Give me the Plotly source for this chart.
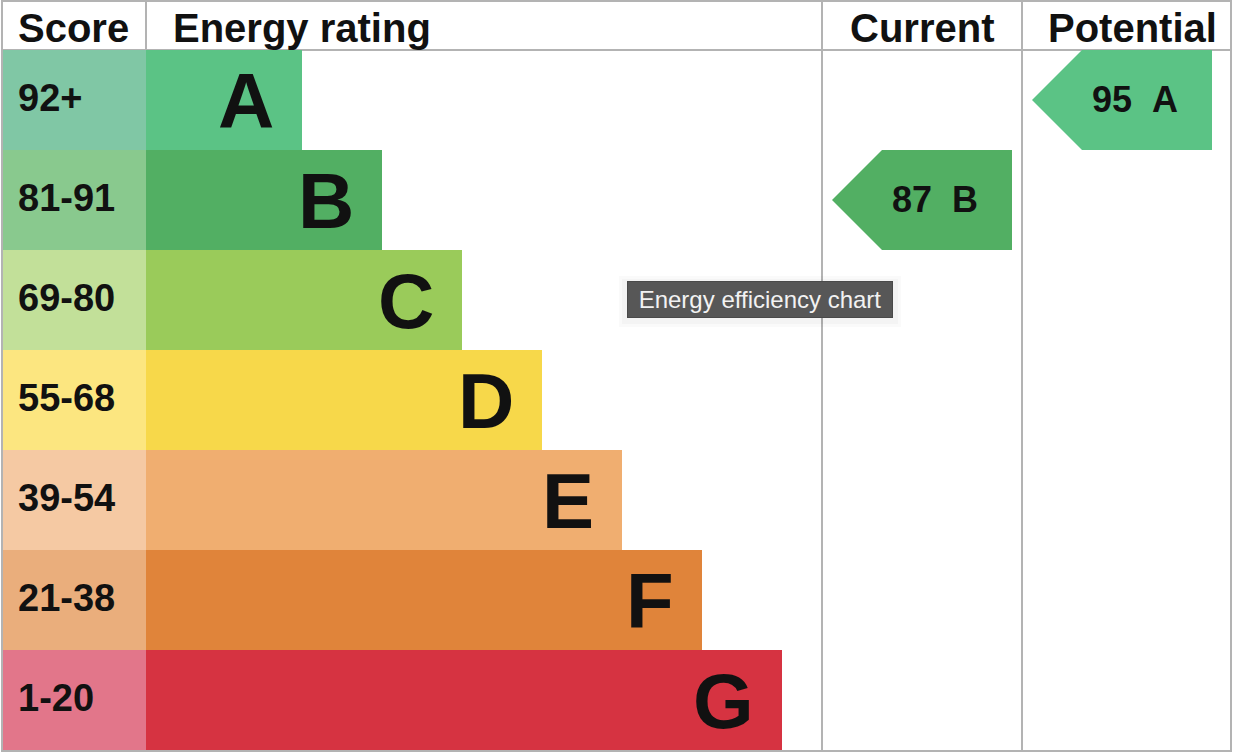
import plotly.graph_objects as go

# ---- data ----
bands = ["A", "B", "C", "D", "E", "F", "G"]
score_labels = ["92+", "81-91", "69-80", "55-68", "39-54", "21-38", "1-20"]
band_mins = [92, 81, 69, 55, 39, 21, 1]
bar_colors = ["#5bc385", "#52af63", "#9acb5a", "#f7d84a", "#f0ae70", "#e0843a", "#d63341"]
score_colors = ["#80c7a5", "#89c98e", "#c2e099", "#fce680", "#f5c9a3", "#eaae7c", "#e2768a"]
headers = ["Score", "Energy rating", "Current", "Potential"]
current_score = 87
potential_score = 95
tooltip_text = "Energy efficiency chart"

# ---- layout geometry (styles) ----
W, H = 1236, 756
LEFT, RIGHT, TOP, BOTTOM = 2, 1231, 1, 751
HEADER_H = 49
ROW_H = 100
SCORE_R = 146
BAR_MIN = 156
BAR_STEP = 80
CUR_L, POT_L = 822, 1022
GRID = "#b3b3b3"
FONT = "Liberation Sans"

row_top = [TOP + HEADER_H + ROW_H * i for i in range(len(bands))]
row_mid = [t + ROW_H / 2 for t in row_top]


def band_index(score):
    for i, m in enumerate(band_mins):
        if score >= m:
            return i
    return len(bands) - 1


fig = go.Figure()

# score column cells
fig.add_trace(go.Bar(
    orientation="h", y=row_mid, x=[SCORE_R - LEFT] * len(bands), base=LEFT,
    width=ROW_H, marker=dict(color=score_colors, line=dict(width=0)),
    hoverinfo="skip", showlegend=False))

# rating bars
bar_len = [BAR_MIN + BAR_STEP * i for i in range(len(bands))]
fig.add_trace(go.Bar(
    orientation="h", y=row_mid, x=bar_len, base=SCORE_R,
    width=ROW_H, marker=dict(color=bar_colors, line=dict(width=0)),
    hoverinfo="skip", showlegend=False))

annotations = []
for i, b in enumerate(bands):
    annotations.append(dict(
        x=16, y=row_mid[i] - 2, xref="x", yref="y", text="<b>%s</b>" % score_labels[i],
        showarrow=False, xanchor="left", yanchor="middle",
        font=dict(family=FONT, size=38, color="#111111")))
    annotations.append(dict(
        x=SCORE_R + bar_len[i] - 26, y=row_mid[i] + 1, xref="x", yref="y", text="<b>%s</b>" % b,
        showarrow=False, xanchor="right", yanchor="middle",
        font=dict(family=FONT, size=78, color="#111111")))

# arrows for current / potential
for score, col_left in [(current_score, CUR_L), (potential_score, POT_L)]:
    i = band_index(score)
    tip = col_left + 10
    notch = tip + 50
    right = tip + 180
    top = row_top[i]
    bot = top + ROW_H
    mid = row_mid[i]
    fig.add_trace(go.Scatter(
        x=[tip, notch, right, right, notch, tip], y=[mid, top, top, bot, bot, mid],
        mode="lines", fill="toself", fillcolor=bar_colors[i], line=dict(width=0),
        hoverinfo="skip", showlegend=False))
    annotations.append(dict(
        x=notch + 8, y=mid - 1, xref="x", yref="y",
        text="<b>%d\u00a0\u00a0%s</b>" % (score, bands[i]),
        showarrow=False, xanchor="left", yanchor="middle",
        font=dict(family=FONT, size=36, color="#111111")))

# headers
header_x = [16, 171, 848, 1046]
for hx, ht in zip(header_x, headers):
    annotations.append(dict(
        x=hx, y=TOP + HEADER_H / 2 + 2, xref="x", yref="y", text="<b>%s</b>" % ht,
        showarrow=False, xanchor="left", yanchor="middle",
        font=dict(family=FONT, size=40, color="#111111")))

# tooltip
annotations.append(dict(
    x=760, y=299.5, xref="x", yref="y", text="\u00a0" + tooltip_text + "\u00a0", showarrow=False,
    xanchor="center", yanchor="middle", bgcolor="#575757", bordercolor="#4a4a4a",
    borderwidth=1, borderpad=4, font=dict(family=FONT, size=24, color="#f2f2f2")))

# grid lines
shapes = [
    dict(type="rect", x0=LEFT, x1=RIGHT, y0=TOP, y1=BOTTOM, line=dict(color=GRID, width=2), layer="above"),
    dict(type="line", x0=LEFT, x1=RIGHT, y0=TOP + HEADER_H, y1=TOP + HEADER_H, line=dict(color=GRID, width=2), layer="below"),
    dict(type="line", x0=SCORE_R, x1=SCORE_R, y0=TOP, y1=TOP + HEADER_H, line=dict(color=GRID, width=2)),
    dict(type="line", x0=CUR_L, x1=CUR_L, y0=TOP, y1=BOTTOM, line=dict(color=GRID, width=2), layer="below"),
    dict(type="line", x0=POT_L, x1=POT_L, y0=TOP, y1=BOTTOM, line=dict(color=GRID, width=2), layer="below"),
    # faint tooltip shadow
    dict(type="rect", x0=619, x1=901, y0=276, y1=327, fillcolor="rgba(0,0,0,0.018)", line=dict(width=0), layer="above"),
    dict(type="rect", x0=622, x1=898, y0=279, y1=324, fillcolor="rgba(0,0,0,0.025)", line=dict(width=0), layer="above"),
]

fig.update_layout(
    width=W, height=H, margin=dict(l=0, r=0, t=0, b=0),
    paper_bgcolor="white", plot_bgcolor="white",
    xaxis=dict(range=[0, W], visible=False, fixedrange=True),
    yaxis=dict(range=[H, 0], visible=False, fixedrange=True),
    barmode="overlay", annotations=annotations, shapes=shapes,
    showlegend=False,
)

fig.write_html("out.html", config={"displayModeBar": False})
